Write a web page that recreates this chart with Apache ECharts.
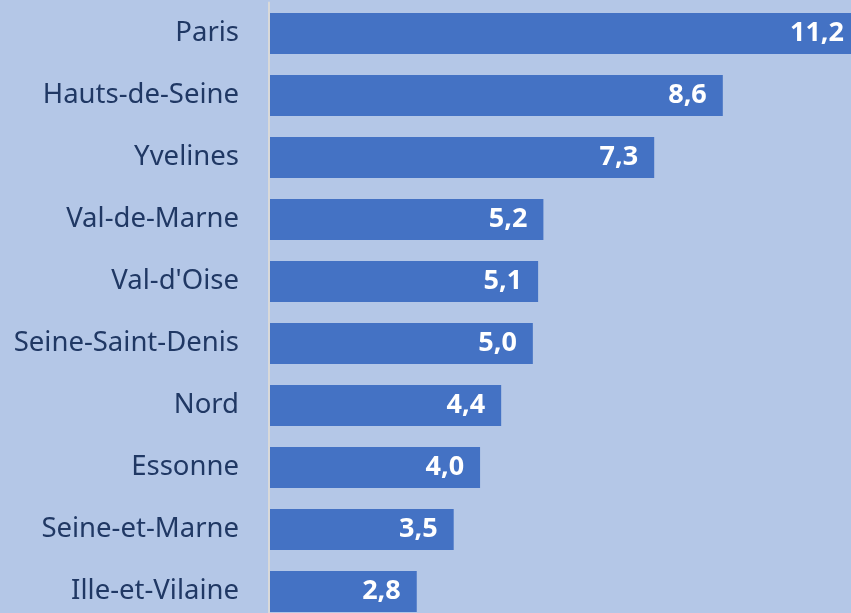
<!DOCTYPE html>
<html>
<head>
<meta charset="utf-8">
<script src="https://cdn.jsdelivr.net/npm/echarts@6/dist/echarts.min.js"></script>
<style>
  html, body { margin: 0; padding: 0; background: #b4c7e7; }
  #chart { width: 851px; height: 613px; }
</style>
</head>
<body>
<div id="chart"></div>
<script>
const categories = ['Paris', 'Hauts-de-Seine', 'Yvelines', 'Val-de-Marne', "Val-d'Oise",
  'Seine-Saint-Denis', 'Nord', 'Essonne', 'Seine-et-Marne', 'Ille-et-Vilaine'];
const values = [11.2, 8.6, 7.3, 5.2, 5.1, 5.0, 4.4, 4.0, 3.5, 2.8];

const myChart = echarts.init(document.getElementById('chart'));

const option = {
  backgroundColor: '#b4c7e7',
  animation: false,
  grid: {
    left: 269,
    top: 2.5,
    width: 591,
    height: 620,
    containLabel: false,
    outerBoundsMode: 'none'
  },
  xAxis: {
    type: 'value',
    min: 0,
    max: 11.2,
    show: false
  },
  yAxis: {
    type: 'category',
    inverse: true,
    data: categories,
    axisTick: { show: false },
    axisLine: {
      show: true,
      lineStyle: { color: '#d9d9d9', width: 2 }
    },
    axisLabel: {
      color: '#203864',
      fontFamily: 'Noto Sans',
      fontSize: 27.5,
      margin: 30
    },
    z: 10
  },
  series: [{
    type: 'bar',
    data: values,
    barWidth: 41,
    itemStyle: { color: '#4472c4' },
    label: {
      show: true,
      position: 'insideRight',
      distance: 16,
      color: '#ffffff',
      fontFamily: 'Noto Sans',
      fontWeight: 'bold',
      fontSize: 27,
      formatter: p => p.value.toFixed(1).replace('.', ',')
    }
  }]
};

myChart.setOption(option);
</script>
</body>
</html>
